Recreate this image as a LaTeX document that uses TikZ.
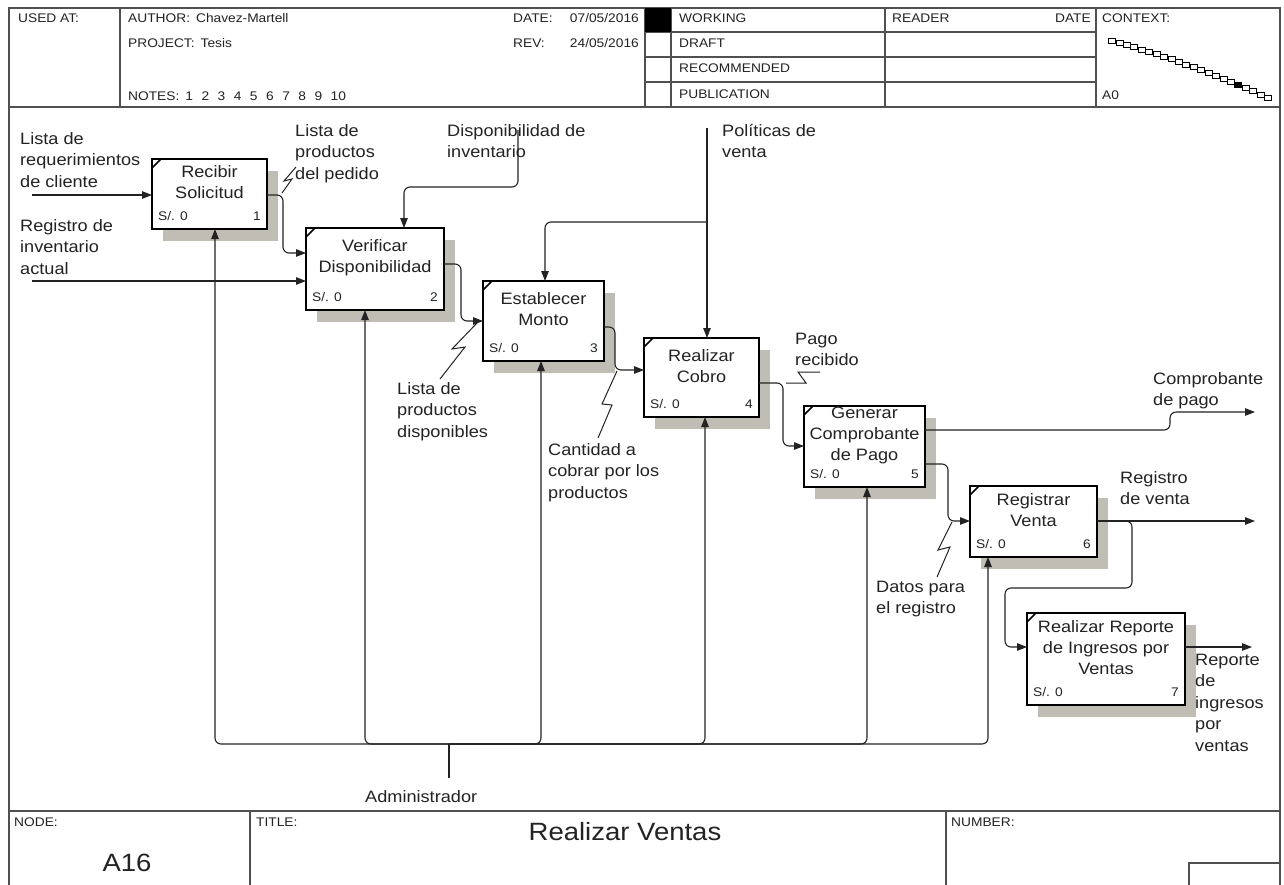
\documentclass[tikz,border=0pt]{standalone}
\usepackage{fontspec}
\setmainfont{Liberation Sans}[FakeStretch=1.1]
\usetikzlibrary{arrows.meta,shadows,calc}

\definecolor{shadowc}{RGB}{192,189,180}
\definecolor{inkc}{RGB}{35,35,35}
\definecolor{framec}{RGB}{80,80,80}

\newcommand\lblfont{\fontsize{16.5}{21.5}\selectfont}
\newcommand\namefont{\fontsize{16.5}{21}\selectfont}
\newcommand\costfont{\fontsize{12.5}{14}\selectfont}
\newcommand\hdrfont{\fontsize{12.5}{15}\selectfont}
\newcommand\bigfont{\fontsize{25}{29}\selectfont}

\tikzset{
  pbox/.style={draw=black, line width=2.4pt, fill=white, rectangle, inner sep=0pt, outer sep=0pt,
    drop shadow={shadow xshift=11pt, shadow yshift=-12pt, fill=shadowc, opacity=1}},
  pname/.style={font=\namefont, align=center, inner sep=0pt, text=inkc},
  pcost/.style={font=\costfont, inner sep=0pt, text=inkc},
  conn/.style={draw=inkc, line width=1.1pt, rounded corners=6pt},
  squig/.style={draw=inkc, line width=1pt},
  tip/.style={-{Triangle[length=10pt,width=7.5pt]}},
  lbl/.style={font=\lblfont, text=inkc, align=left, inner sep=0pt, anchor=north west},
  hdr/.style={font=\hdrfont, text=inkc, inner sep=0pt, anchor=west},
  hdrr/.style={font=\hdrfont, text=inkc, inner sep=0pt, anchor=east},
  fline/.style={draw=framec, line width=1.3pt},
}

% activity box: name, x, y, width, height, title, number
\newcommand\actbox[7]{%
  \node[pbox, minimum width=#4pt, minimum height=#5pt] (#1) at (#2,#3) {};
  \node[pname] (#1n) at ([yshift=11.5pt]#1.center) {#6};
  \node[pcost, anchor=west] (#1k) at ([xshift=6pt,yshift=13pt]#1.south west) {S/. 0};
  \node[pcost, anchor=east] (#1m) at ([xshift=-6pt,yshift=13pt]#1.south east) {#7};
  \draw[line width=1.6pt] ([yshift=-9pt]#1.north west) -- ([xshift=9pt]#1.north west);
}
\newcommand\ngap{\hspace{8.5pt}}

\begin{document}
\begin{tikzpicture}[x=1pt,y=-1pt]
\clip (0,0) rectangle (1284,884);
\fill[white] (0,0) rectangle (1284,884);

% ---------- frame, header and footer ----------
\draw[fline] (9,890) -- (9,8) -- (1280,8) -- (1280,890);
\draw[fline] (9,107) -- (1280,107);
\foreach \x in {120,645,671,885,1096} \draw[fline] (\x,8) -- (\x,107);
\foreach \y in {32,57,82} \draw[fline] (645,\y) -- (1096,\y);
\fill[black] (645,8) rectangle (671,32);

\node[hdr] (usedat) at (18,18) {USED AT:};
\node[hdr] (author) at (128,18) {AUTHOR:\hspace{6pt}Chavez-Martell};
\node[hdr] (project) at (128,43) {PROJECT:\hspace{6pt}Tesis};
\node[hdr] (notes) at (128,96) {NOTES:\hspace{6pt}1\ngap 2\ngap 3\ngap 4\ngap 5\ngap 6\ngap 7\ngap 8\ngap 9\ngap 10};
\node[hdr] (datek) at (513,18) {DATE:};
\node[hdrr] (datev) at (639,18) {07/05/2016};
\node[hdr] (revk) at (513,43) {REV:};
\node[hdrr] (revv) at (639,43) {24/05/2016};
\node[hdr] (working) at (679,18) {WORKING};
\node[hdr] (draft) at (679,43) {DRAFT};
\node[hdr] (recom) at (679,68) {RECOMMENDED};
\node[hdr] (publ) at (679,94) {PUBLICATION};
\node[hdr] (reader) at (892,18) {READER};
\node[hdrr] (rdate) at (1091,18) {DATE};
\node[hdr] (context) at (1102,18) {CONTEXT:};
\node[hdr] (azero) at (1102,95) {A0};

% context chain of sibling boxes
\foreach \i in {0,...,21} {
  \pgfmathsetmacro\tt{\i/21}
  \pgfmathsetmacro\cx{1112+156*\tt}
  \pgfmathsetmacro\cy{41+57*\tt-15*\tt*(1-\tt)}
  \ifnum\i=17
    \filldraw[line width=0.7pt, fill=black] (\cx-3.5,\cy-2.5) rectangle (\cx+3.5,\cy+2.5);
  \else
    \filldraw[line width=0.7pt, fill=white] (\cx-3.5,\cy-2.5) rectangle (\cx+3.5,\cy+2.5);
  \fi
}

\draw[fline] (9,811) -- (1280,811);
\draw[fline] (250,811) -- (250,890);
\draw[fline] (946,811) -- (946,890);
\draw[fline] (1189,890) -- (1189,863) -- (1280,863);
\node[hdr] (nodek) at (14,822) {NODE:};
\node[hdr] (titlek) at (256,822) {TITLE:};
\node[hdr] (numberk) at (951,822) {NUMBER:};
\node[font=\bigfont, text=inkc, inner sep=0pt] (title) at (625,832) {Realizar Ventas};
\node[font=\bigfont, text=inkc, inner sep=0pt] (nodeid) at (127,863) {A16};

% ---------- activities ----------
\actbox{b1}{209.5}{194}{115}{70}{Recibir\\Solicitud}{1}
\actbox{b2}{375}{269}{138}{82}{Verificar\\Disponibilidad}{2}
\actbox{b3}{543.5}{321}{121}{80}{Establecer\\Monto}{3}
\actbox{b4}{701.5}{377.5}{115}{79}{Realizar\\Cobro}{4}
\actbox{b5}{864.5}{446.5}{121}{81}{Generar\\Comprobante\\de Pago}{5}
\actbox{b6}{1033.5}{521.5}{127}{71}{Registrar\\Venta}{6}
\actbox{b7}{1106}{659}{158}{92}{Realizar Reporte\\de Ingresos por\\Ventas}{7}

% ---------- labels ----------
\node[lbl] (l1) at (20,129) {\strut Lista de\\requerimientos\\de cliente};
\node[lbl] (l2) at (20,216) {\strut Registro de\\inventario\\actual};
\node[lbl] (l3) at (295,121) {\strut Lista de\\productos\\del pedido};
\node[lbl] (l4) at (447,121) {\strut Disponibilidad de\\inventario};
\node[lbl] (l5) at (722,121) {\strut Políticas de\\venta};
\node[lbl] (l6) at (397,379) {\strut Lista de\\productos\\disponibles};
\node[lbl] (l7) at (548,440) {\strut Cantidad a\\cobrar por los\\productos};
\node[lbl] (l8) at (795,329) {\strut Pago\\recibido};
\node[lbl] (l9) at (1153,369) {\strut Comprobante\\de pago};
\node[lbl] (l10) at (1120,468) {\strut Registro\\de venta};
\node[lbl] (l11) at (876,577) {\strut Datos para\\el registro};
\node[lbl] (l12) at (1195,650) {\strut Reporte\\de\\ingresos\\por\\ventas};
\node[lbl] (l13) at (365,787) {\strut Administrador};

% ---------- inputs ----------
\coordinate (in1) at (32,195);
\coordinate (in2) at (32,281);
\draw[conn,tip] (in1) -- (b1.west |- in1);
\draw[conn,tip] (in2) -- (b2.west |- in2);

% ---------- controls ----------
\coordinate (ctl1) at (518,130);
\coordinate (ctl2) at (707,128);
\draw[conn,tip] (ctl1) -- (518,187) -| (b2.north -| 404,0);
\draw[conn,tip] (ctl2) -- (b4.north -| 707,0);
\draw[conn,tip] (707,222) -| (b3.north -| 545,0);

% ---------- flows between activities ----------
\draw[conn,tip] (b1.east |- 0,195) -- (283,195) |- (b2.west |- 0,253);
\draw[conn,tip] (b2.east |- 0,264) -- (461,264) |- (b3.west |- 0,321);
\draw[conn,tip] (b3.east |- 0,327) -- (615,327) |- (b4.west |- 0,370);
\draw[conn,tip] (b4.east |- 0,383) -- (783,383) |- (b5.west |- 0,446);
\draw[conn,tip] (b5.east |- 0,464) -- (948,464) |- (b6.west |- 0,521);
\draw[conn,tip] (1118,521) -- (1132,521) -- (1132,588) -- (1005,588) |- (b7.west |- 0,647);

% ---------- outputs ----------
\coordinate (out1) at (1255,412);
\coordinate (out2) at (1255,521);
\coordinate (out3) at (1252,647);
\draw[conn,tip] (b5.east |- 0,430) -- (1170,430) -- (1170,412) -- (out1);
\draw[conn,tip] (b6.east |- 0,521) -- (out2);
\draw[conn,tip] (b7.east |- 0,647) -- (out3);

% ---------- mechanism bus ----------
\coordinate (mech) at (449,744);
\coordinate (mechend) at (449,778);
\draw[conn] (mechend) -- (mech);
\draw[conn,tip] (mech) -| (b1.south -| 215,0);
\draw[conn,tip] (mech) -| (b2.south -| 365,0);
\draw[conn,tip] (mech) -| (b3.south -| 541,0);
\draw[conn,tip] (mech) -| (b4.south -| 705,0);
\draw[conn,tip] (mech) -| (b5.south -| 867,0);
\draw[conn,tip] (mech) -| (b6.south -| 988,0);

% ---------- label squiggles ----------
\draw[squig] (296,167) -- (284,181) -- (292,179) -- (282,193);
\draw[squig] (440,379) -- (465,347) -- (452,349) -- (477,323);
\draw[squig] (598,438) -- (612,405) -- (602,404) -- (617,371);
\draw[squig] (820,372) -- (798,372) -- (806,383) -- (786,383);
\draw[squig] (937,577) -- (950,547) -- (938,550) -- (952,522);
\end{tikzpicture}
\end{document}
